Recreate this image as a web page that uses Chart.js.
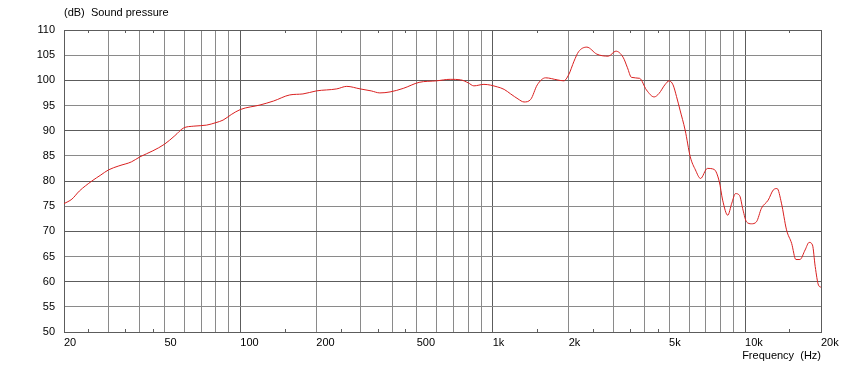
<!DOCTYPE html>
<html>
<head>
<meta charset="utf-8">
<script src="https://cdn.jsdelivr.net/npm/chart.js@4"></script>
<style>
  html, body { margin: 0; padding: 0; background: #fff; }
  #wrap { width: 844px; height: 367px; position: relative; }
</style>
</head>
<body>
<div id="wrap"><canvas id="chart-spl"></canvas></div>
<script>
// Frekuensi (Hz) dan tekanan suara (dB)
const freqHz = [
    20, 21.5, 23, 25.8, 28, 30, 33, 37, 40, 45, 50, 55, 59.4, 65.4, 73.4, 80, 85.4, 92,
    100, 119.6, 135.5, 157, 177, 200, 241, 264, 298, 330, 357, 392, 442, 511, 599, 678, 746, 800, 842, 923,
    1043, 1110, 1178, 1260, 1331, 1414, 1502, 1620, 1800, 1912, 2000, 2100, 2190, 2361, 2587, 2872,
    3077, 3285, 3420, 3545, 3821, 4066, 4363, 4563, 4810, 5005, 5184, 5350, 5525, 5790, 6067, 6360,
    6663, 7090, 7543, 7904, 8152, 8539, 8862, 9167, 9517, 9820, 10130, 10600, 11100, 11620, 12350,
    12930, 13400, 13940, 14600, 15300, 15900, 16500, 17300, 17950, 18500, 18970, 19550, 20000
];
const splDb = [
    75.5, 76.4, 78.0, 80.0, 81.2, 82.2, 83.0, 83.8, 84.8, 86.0, 87.3, 89.0, 90.5, 90.9, 91.1, 91.6, 92.1, 93.2,
    94.2, 95.1, 95.9, 97.1, 97.3, 97.9, 98.3, 98.8, 98.3, 97.9, 97.5, 97.7, 98.4, 99.6, 99.9, 100.2, 100.1, 99.5, 98.9, 99.2,
    98.7, 98.2, 97.3, 96.3, 95.7, 96.2, 99.1, 100.5, 100.1, 99.9, 101.1, 103.8, 105.7, 106.6, 105.2, 104.8,
    105.8, 104.6, 102.5, 100.6, 100.4, 98.1, 96.7, 97.4, 99.1, 99.9, 99.1, 96.8, 94.1, 90.1, 84.8, 82.2,
    80.5, 82.5, 82.3, 79.9, 76.2, 73.2, 75.6, 77.5, 77.1, 74.2, 71.9, 71.5, 71.9, 74.6, 76.2,
    78.2, 78.5, 75.6, 70.3, 67.6, 64.4, 64.4, 66.3, 67.8, 67.3, 63.0, 59.3, 58.9
];

// Sumbu
const xMin = 20, xMax = 20000;
const yMin = 50, yMax = 110, yStep = 5;
const xLabelTicks = [20, 50, 100, 200, 500, 1000, 2000, 5000, 10000, 20000];
const xGridMult = [1, 2, 3, 4, 5, 6, 7, 8, 9];
const xMinorMult = [1.5, 2.5, 3.5, 4.5];
const decades = [10, 100, 1000, 10000];

const gridLight = '#8a8a8a';
const gridDark = '#5c5c5c';
const textFont = { family: 'Liberation Sans, Arial, sans-serif', size: 11 };

function isMinor(v) {
    return decades.some(d => xMinorMult.some(m => Math.abs(m * d - v) < 1e-6));
}
function fmtFreq(v) {
    if (!xLabelTicks.includes(v)) return '';
    return v >= 1000 ? (v / 1000) + 'k' : String(v);
}

// Garis kecil di tepi atas/bawah untuk tick minor
const minorTickPlugin = {
    id: 'minorTicks',
    afterDraw(chart) {
        const { ctx, chartArea } = chart;
        const sx = chart.scales.x;
        ctx.save();
        ctx.strokeStyle = gridDark;
        ctx.lineWidth = 1;
        sx.ticks.forEach(t => {
            if (!isMinor(t.value)) return;
            const px = Math.round(sx.getPixelForValue(t.value)) + 0.5;
            ctx.beginPath();
            ctx.moveTo(px, chartArea.bottom);
            ctx.lineTo(px, chartArea.bottom - 3);
            ctx.moveTo(px, chartArea.top);
            ctx.lineTo(px, chartArea.top + 3);
            ctx.stroke();
        });
        // judul sumbu y
        ctx.fillStyle = '#000';
        ctx.font = textFont.size + 'px ' + textFont.family;
        ctx.textBaseline = 'middle';
        ctx.textAlign = 'left';
        ctx.fillText('(dB)  Sound pressure', chartArea.left, chartArea.top - 17);
        ctx.restore();
    }
};

const points = freqHz.map((f, i) => ({ x: f, y: splDb[i] }));

new Chart(document.getElementById('chart-spl').getContext('2d'), {
    type: 'line',
    data: {
        datasets: [{
            data: points,
            borderColor: '#d92020',
            borderWidth: 1,
            pointRadius: 0,
            fill: false,
            cubicInterpolationMode: 'monotone'
        }]
    },
    options: {
        responsive: true,
        maintainAspectRatio: false,
        animation: false,
        layout: { padding: { top: 30, right: 23, left: 0, bottom: 0 } },
        plugins: { legend: { display: false }, tooltip: { enabled: false }, title: { display: false } },
        scales: {
            x: {
                type: 'logarithmic',
                min: xMin,
                max: xMax,
                afterBuildTicks: axis => {
                    const vals = [];
                    decades.forEach(d => {
                        xGridMult.concat(xMinorMult).forEach(m => {
                            const v = m * d;
                            if (v >= xMin && v <= xMax) vals.push(v);
                        });
                    });
                    vals.push(xMax);
                    axis.ticks = [...new Set(vals)].sort((a, b) => a - b).map(v => ({ value: v }));
                },
                afterFit: axis => { axis.height = 35; },
                grid: {
                    drawTicks: false,
                    color: c => {
                        const v = c.tick ? c.tick.value : 0;
                        if (isMinor(v)) return 'rgba(0,0,0,0)';
                        if (decades.includes(v) || v === xMin || v === xMax) return gridDark;
                        return gridLight;
                    }
                },
                border: { color: gridDark },
                ticks: {
                    autoSkip: false,
                    maxRotation: 0,
                    align: 'start',
                    padding: 4,
                    color: '#000',
                    font: textFont,
                    callback: v => fmtFreq(v)
                },
                title: {
                    display: true,
                    text: 'Frequency  (Hz)',
                    align: 'end',
                    color: '#000',
                    font: textFont,
                    padding: { top: 0, bottom: 4 }
                }
            },
            y: {
                min: yMin,
                max: yMax,
                afterFit: axis => { axis.width = 64; },
                grid: {
                    drawTicks: false,
                    color: c => (c.tick && c.tick.value % 10 === 0) ? gridDark : gridLight
                },
                border: { color: gridDark },
                ticks: {
                    stepSize: yStep,
                    padding: 9,
                    color: '#000',
                    font: textFont
                }
            }
        }
    },
    plugins: [minorTickPlugin]
});
</script>
</body>
</html>
